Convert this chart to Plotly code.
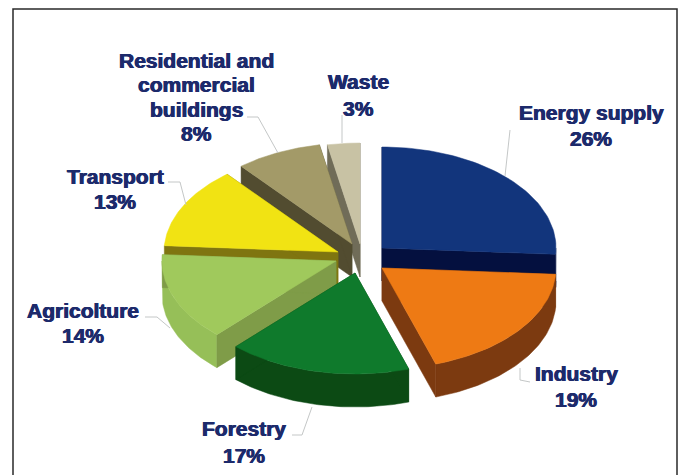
import numpy as np
import plotly.graph_objects as go

# Emission shares by sector, clockwise from twelve o'clock
sectors = ["Energy supply", "Industry", "Forestry", "Agricolture", "Transport",
           "Residential and<br>commercial<br>buildings", "Waste"]
shares = [26, 19, 17, 14, 13, 8, 3]

top_colors = ["#12357c", "#ee7a14", "#0f7a2c", "#a0c95c", "#f1e313", "#a39a68", "#c8c2a4"]
cut_colors = ["#04103f", "#7c3a10", "#0c4a14", "#7f9c48", "#7f7510", "#524c30", "#706c58"]
rim_colors = ["#04103f", "#7c3a10", "#0c4a14", "#96bf58", "#7f7510", "#524c30", "#706c58"]

# Where each exploded slice's apex sits on the canvas
apex_x = [382, 382, 355, 336, 338, 352, 360]
apex_y = [248, 268, 273, 261, 252, 244, 244]

# Oblique projection of the disc
RX, RY, DEPTH = 174, 101, 33
BACK_TO_FRONT = [6, 5, 4, 0, 3, 1, 2]

label_x = [591, 576, 244, 83, 115, 196, 358]
first_line_y = [112, 373, 428, 310, 176, 60, 81]
line_step = [26, 26, 27, 25, 25, 24.5, 27]
leader_x = [[510, 505], [520, 520, 530], [292, 302, 312], [145, 157, 170],
            [168, 180, 186], [247, 258, 278], [342, 342]]
leader_y = [[130, 176], [368, 380, 382], [435, 435, 407], [317, 317, 328],
            [182, 182, 205], [117, 117, 153], [115, 143]]

ends = np.cumsum(shares) * 3.6
starts = ends - np.array(shares) * 3.6


def rim(ax, ay, a0, a1):
    t = np.radians(np.linspace(a0, a1, 60))
    return ax + RX * np.sin(t), ay - RY * np.cos(t)


def poly(fig, xs, ys, color):
    fig.add_trace(go.Scatter(x=list(xs), y=list(ys), mode="lines", fill="toself",
                             fillcolor=color, line=dict(color=color, width=0.5),
                             hoverinfo="skip", showlegend=False))


fig = go.Figure()

for i in BACK_TO_FRONT:
    ax, ay, a0, a1 = apex_x[i], apex_y[i], starts[i], ends[i]
    # outer curved wall on the front half
    lo, hi = max(a0, 90), min(a1, 270)
    if hi > lo:
        rx_, ry_ = rim(ax, ay, lo, hi)
        poly(fig, np.r_[rx_, rx_[::-1]], np.r_[ry_, ry_[::-1] + DEPTH], rim_colors[i])
    # radial cut faces
    for ang in (a0, a1):
        ex, ey = rim(ax, ay, ang, ang)
        ex, ey = ex[0], ey[0]
        poly(fig, [ax, ex, ex, ax, ax], [ay, ey, ey + DEPTH, ay + DEPTH, ay], cut_colors[i])
    # top surface
    rx_, ry_ = rim(ax, ay, a0, a1)
    poly(fig, np.r_[ax, rx_, ax], np.r_[ay, ry_, ay], top_colors[i])

for lx, ly in zip(leader_x, leader_y):
    fig.add_trace(go.Scatter(x=lx, y=ly, mode="lines", line=dict(color="#c4c7c7", width=1),
                             hoverinfo="skip", showlegend=False))

# Each label line is placed on its own so the leading stays tight
for name, share, x, y0, step in zip(sectors, shares, label_x, first_line_y, line_step):
    for k, line in enumerate(name.split("<br>") + [f"{share}%"]):
        fig.add_annotation(x=x, y=y0 + k * step, text=line, showarrow=False,
                           xanchor="center", yanchor="middle", align="center",
                           font=dict(family="Liberation Sans", size=21, color="#1d2a6b",
                                     weight="bold",
                                     shadow="0.5px 0 0.5px #1d2a6b, -0.5px 0 0.5px #1d2a6b"))

fig.update_layout(
    width=683, height=475, margin=dict(l=0, r=0, t=0, b=0, pad=0),
    paper_bgcolor="white", plot_bgcolor="white", showlegend=False,
    xaxis=dict(range=[0, 683], visible=False, fixedrange=True),
    yaxis=dict(range=[475, 0], visible=False, fixedrange=True),
    shapes=[dict(type="rect", xref="x", yref="y", x0=13, y0=9, x1=677, y1=485,
                 line=dict(color="#2a2a2a", width=1.5), layer="below")],
)
fig.write_html("out.html", config={"displayModeBar": False})
